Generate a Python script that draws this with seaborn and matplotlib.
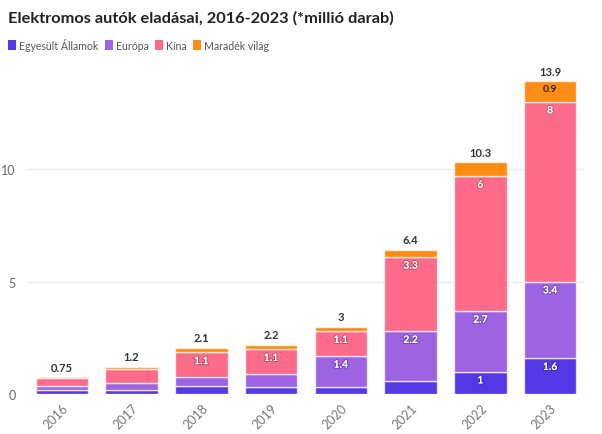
import matplotlib
matplotlib.use("Agg")
import matplotlib.pyplot as plt
import matplotlib.patheffects as pe
from matplotlib.patches import Patch
import numpy as np
import pandas as pd
import seaborn as sns

years = ["2016", "2017", "2018", "2019", "2020", "2021", "2022", "2023"]
series_names = ["Egyesült Államok", "Európa", "Kína", "Maradék világ"]
us = [0.16, 0.2, 0.36, 0.3, 0.3, 0.6, 1.0, 1.6]
europe = [0.21, 0.3, 0.4, 0.6, 1.4, 2.2, 2.7, 3.4]
china = [0.33, 0.6, 1.1, 1.1, 1.1, 3.3, 6.0, 8.0]
rest = [0.05, 0.1, 0.2, 0.2, 0.2, 0.3, 0.6, 0.9]
totals = ["0.75", "1.2", "2.1", "2.2", "3", "6.4", "10.3", "13.9"]
seg_labels = [
    ["", "", "", "", "", "", "1", "1.6"],
    ["", "", "", "", "1.4", "2.2", "2.7", "3.4"],
    ["", "", "1.1", "1.1", "1.1", "3.3", "6", "8"],
    ["", "", "", "", "", "", "", "0.9"],
]
colors = ["#5438e6", "#9d63e2", "#ff6b8b", "#ff8c14"]

sns.set_theme(style="white")
plt.rcParams["font.family"] = ["Lato", "DejaVu Sans"]

fig = plt.figure(figsize=(6.02, 4.35), dpi=100)
ax = fig.add_axes([27 / 602, 1 - 395 / 435, 558 / 602, (395 - 62) / 435])

data = [us, europe, china, rest]
bottom = np.zeros(len(years))
for i, (name, vals) in enumerate(zip(series_names, data)):
    df = pd.DataFrame({"year": years, "value": vals})
    sns.barplot(data=df, x="year", y="value", color=colors[i], bottom=bottom,
                width=0.75, edgecolor=(1, 1, 1, 0.7), linewidth=1.0, ax=ax,
                saturation=1, errorbar=None)
    for j, lab in enumerate(seg_labels[i]):
        if lab:
            top = bottom[j] + vals[j]
            if i == 3:
                ax.text(j, top - 0.12, lab, ha="center", va="top", fontsize=7.5,
                        fontweight="bold", color="#222222")
            else:
                ax.text(j, top - 0.22, lab, ha="center", va="top", fontsize=7.5,
                        fontweight="bold", color="white",
                        path_effects=[pe.withStroke(linewidth=1.5, foreground=(0, 0, 0, 0.25))])
    bottom = bottom + np.array(vals)

for j, t in enumerate(totals):
    ax.text(j, bottom[j] + 0.2, t, ha="center", va="bottom", fontsize=8,
            fontweight="bold", color="#333333")

ax.set_xlim(-0.5, 7.5)
ax.set_ylim(0, 14.8)
ax.set_yticks([0, 5, 10])
ax.set_yticklabels(["0", "5", "10"])
ax.yaxis.grid(True, color="#ececec", linewidth=1)
ax.set_axisbelow(True)
for s in ax.spines.values():
    s.set_visible(False)
ax.set_xlabel("")
ax.set_ylabel("")
ax.tick_params(axis="y", length=0, labelsize=9, labelcolor="#666666", pad=8)
ax.tick_params(axis="x", length=3, color="#dddddd", labelsize=9, labelcolor="#777777", pad=2)
for lbl in ax.get_xticklabels():
    lbl.set_rotation(45)
    lbl.set_ha("right")
    lbl.set_rotation_mode("anchor")

fig.text(8 / 602, 1 - 18 / 435, "Elektromos autók eladásai, 2016-2023 (*millió darab)",
         fontsize=11.8, fontweight="bold", color="#222222", va="center", ha="left")

handles = [Patch(facecolor=c, edgecolor="none") for c in colors]
leg = fig.legend(handles, series_names, loc="center left",
                 bbox_to_anchor=(4 / 602, 1 - 45 / 435), ncol=4, frameon=False,
                 fontsize=7.6, handlelength=0.75, handleheight=1.0, handletextpad=0.3,
                 columnspacing=0.6, borderaxespad=0)
for t in leg.get_texts():
    t.set_color("#555555")

fig.savefig("out.png", dpi=100)
